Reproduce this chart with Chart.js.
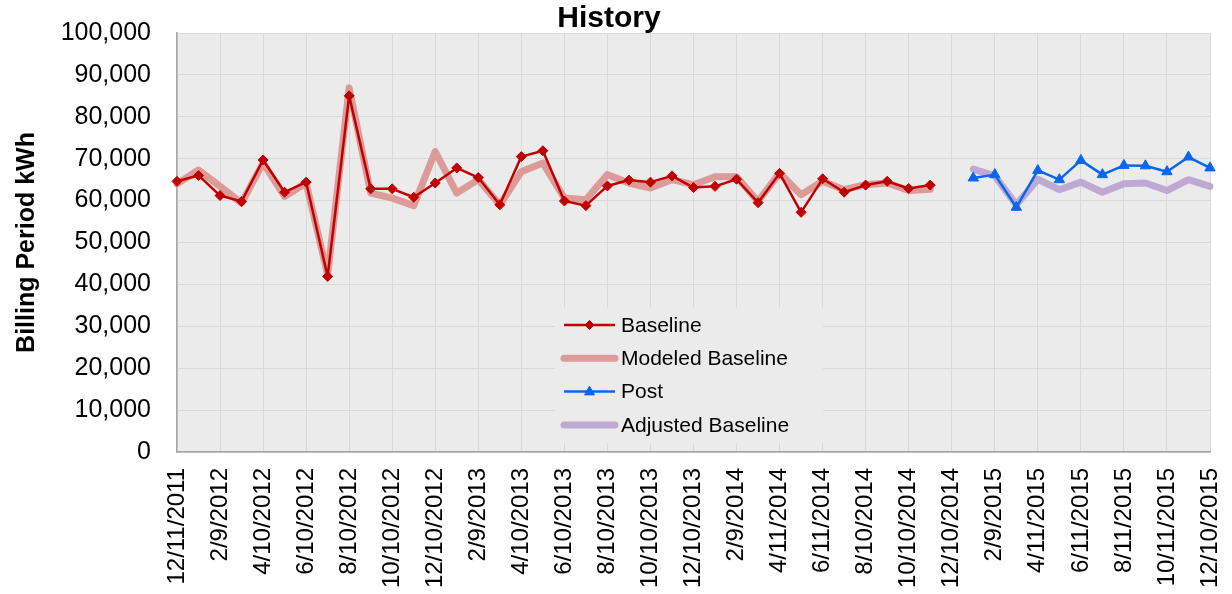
<!DOCTYPE html>
<html><head><meta charset="utf-8">
<script src="https://cdn.jsdelivr.net/npm/chart.js@4/dist/chart.umd.min.js"></script>
<style>html,body{margin:0;padding:0;background:#fff}#wrap{width:1232px;height:594px}</style>
</head><body><div id="wrap"><canvas id="c" width="1232" height="594"></canvas></div>
<script>
const categories = [
  '12/11/2011','1/11/2012','2/9/2012','3/12/2012','4/10/2012','5/10/2012','6/10/2012','7/11/2012',
  '8/10/2012','9/11/2012','10/10/2012','11/8/2012','12/10/2012','1/10/2013','2/9/2013','3/12/2013',
  '4/10/2013','5/10/2013','6/10/2013','7/11/2013','8/10/2013','9/10/2013','10/10/2013','11/8/2013',
  '12/10/2013','1/10/2014','2/9/2014','3/12/2014','4/11/2014','5/12/2014','6/11/2014','7/11/2014',
  '8/10/2014','9/10/2014','10/10/2014','11/10/2014','12/10/2014','1/12/2015','2/9/2015','3/12/2015',
  '4/11/2015','5/12/2015','6/11/2015','7/13/2015','8/11/2015','9/11/2015','10/11/2015','11/10/2015',
  '12/10/2015'
];
const baseline = [
  64600, 66000, 61200, 59800, 69700, 62000, 64400, 41900, 85000, 62800, 62800, 60800,
  64200, 67800, 65500, 59000, 70500, 71900, 59900, 58800, 63500, 64900, 64400, 65900,
  63100, 63400, 65100, 59500, 66500, 57200, 65200, 62000, 63700, 64600, 62900, 63700,
  null, null, null, null, null, null, null, null, null, null, null, null, null
];
const modeledBaseline = [
  64000, 67300, 63400, 59400, 69000, 61000, 64200, 42300, 86900, 61800, 60600, 58800,
  71700, 61800, 65000, 59000, 66900, 69000, 60600, 60200, 66200, 64200, 63000, 65000,
  63800, 65700, 65700, 59800, 66600, 61400, 64600, 62600, 63800, 64200, 62400, 62700,
  null, null, null, null, null, null, null, null, null, null, null, null, null
];
const post = [
  null, null, null, null, null, null, null, null, null, null, null, null,
  null, null, null, null, null, null, null, null, null, null, null, null,
  null, null, null, null, null, null, null, null, null, null, null, null, null,
  65400, 66200, 58400, 67200, 65000, 69600, 66200, 68400, 68300, 66900, 70400, 67800
];
const adjustedBaseline = [
  null, null, null, null, null, null, null, null, null, null, null, null,
  null, null, null, null, null, null, null, null, null, null, null, null,
  null, null, null, null, null, null, null, null, null, null, null, null, null,
  67500, 65900, 59000, 65100, 62600, 64400, 62000, 64000, 64200, 62400, 65000, 63400
];
const yMin = 0, yMax = 100000, yStep = 10000;

Chart.defaults.font.family = '"Liberation Sans", Arial, sans-serif';
Chart.defaults.color = '#000';

const bgPlugin = {
  id: 'bg',
  beforeDraw(chart) {
    const ctx = chart.ctx, a = chart.chartArea;
    ctx.save();
    ctx.fillStyle = '#ffffff';
    ctx.fillRect(0, 0, chart.width, chart.height);
    ctx.fillStyle = '#ebebeb';
    ctx.fillRect(a.left, a.top, a.right - a.left, a.bottom - a.top);
    ctx.restore();
  }
};

function drawMarker(ctx, style, x, y, r, color) {
  ctx.save();
  ctx.fillStyle = color; ctx.strokeStyle = color; ctx.lineWidth = 1;
  ctx.beginPath();
  if (style === 'rectRot') {
    ctx.moveTo(x, y - r); ctx.lineTo(x + r, y); ctx.lineTo(x, y + r); ctx.lineTo(x - r, y);
  } else if (style === 'triangle') {
    ctx.moveTo(x, y - r); ctx.lineTo(x + r * 0.9, y + r * 0.6); ctx.lineTo(x - r * 0.9, y + r * 0.6);
  }
  ctx.closePath(); ctx.fill(); ctx.stroke();
  ctx.restore();
}

const legendPlugin = {
  id: 'insideLegend',
  afterDraw(chart) {
    const ctx = chart.ctx, a = chart.chartArea;
    const x0 = a.left + 378, y0 = a.top + 275, w = 268, h = 135;
    ctx.save();
    ctx.fillStyle = '#ebebeb';
    ctx.fillRect(x0, y0, w, h);
    chart.data.datasets.forEach((ds, i) => {
      const cy = y0 + 17 + i * 33.3;
      const lx1 = x0 + 9, lx2 = x0 + 60, cx = (lx1 + lx2) / 2;
      ctx.strokeStyle = ds.borderColor;
      ctx.lineWidth = ds.borderWidth;
      ctx.lineCap = ds.borderWidth > 4 ? 'round' : 'butt';
      ctx.beginPath(); ctx.moveTo(lx1, cy); ctx.lineTo(lx2, cy); ctx.stroke();
      if (ds.pointRadius > 0) drawMarker(ctx, ds.pointStyle, cx, cy, ds.pointStyle === 'triangle' ? 5.5 : 4.5, ds.borderColor);
      ctx.fillStyle = '#000';
      ctx.font = '21px "Liberation Sans", Arial, sans-serif';
      ctx.textBaseline = 'middle';
      ctx.textAlign = 'left';
      ctx.fillText(ds.label, x0 + 66, cy + 1);
    });
    ctx.restore();
  }
};

new Chart(document.getElementById('c'), {
  type: 'line',
  data: {
    labels: categories,
    datasets: [
      { label: 'Baseline', data: baseline, borderColor: '#c00000', backgroundColor: '#c00000',
        borderWidth: 2.5, pointStyle: 'rectRot', pointRadius: 5, pointBorderWidth: 1, tension: 0,
        borderJoinStyle: 'round' },
      { label: 'Modeled Baseline', data: modeledBaseline, borderColor: '#dc9a99', backgroundColor: '#dc9a99',
        borderWidth: 7, pointRadius: 0, tension: 0, borderJoinStyle: 'round', borderCapStyle: 'round' },
      { label: 'Post', data: post, borderColor: '#0a66ee', backgroundColor: '#0a66ee',
        borderWidth: 2.5, pointStyle: 'triangle', pointRadius: 6, pointBorderWidth: 1, tension: 0,
        borderJoinStyle: 'round' },
      { label: 'Adjusted Baseline', data: adjustedBaseline, borderColor: '#bea9d3', backgroundColor: '#bea9d3',
        borderWidth: 7, pointRadius: 0, tension: 0, borderJoinStyle: 'round', borderCapStyle: 'round' }
    ]
  },
  options: {
    responsive: false,
    animation: false,
    devicePixelRatio: 1,
    layout: { padding: { left: 8, right: 22, top: 0, bottom: 0 } },
    plugins: {
      legend: { display: false },
      tooltip: { enabled: false },
      title: { display: true, text: 'History', color: '#000',
        font: { size: 30, weight: 'bold' }, padding: { top: 1, bottom: -4 } }
    },
    scales: {
      x: {
        type: 'category',
        offset: false,
        grid: { color: (c) => (c.index % 2 === 0 ? '#d9d9d9' : 'rgba(0,0,0,0)'), lineWidth: 1, drawTicks: false },
        border: { color: '#a6a6a6', width: 1.5 },
        ticks: {
          autoSkip: false, maxRotation: 90, minRotation: 90, padding: 16,
          font: { size: 24 }, color: '#000',
          callback: function (v, i) { return i % 2 === 0 ? this.getLabelForValue(v) : ''; }
        },
        afterFit: (s) => { s.height = 142; s.paddingLeft = 0; s.paddingRight = 0; }
      },
      y: {
        min: yMin, max: yMax,
        grid: { color: '#d9d9d9', lineWidth: 1, drawTicks: false },
        border: { color: '#a6a6a6', width: 1.5 },
        ticks: { stepSize: yStep, padding: 26, font: { size: 25 }, color: '#000',
          callback: (v) => v.toLocaleString('en-US') },
        title: { display: true, text: 'Billing Period kWh', color: '#000',
          font: { size: 25, weight: 'bold' } },
        afterFit: (s) => { s.width = 169; s.paddingTop = 0; s.paddingBottom = 0; }
      }
    }
  },
  plugins: [bgPlugin, legendPlugin]
});
</script>
</body></html>
